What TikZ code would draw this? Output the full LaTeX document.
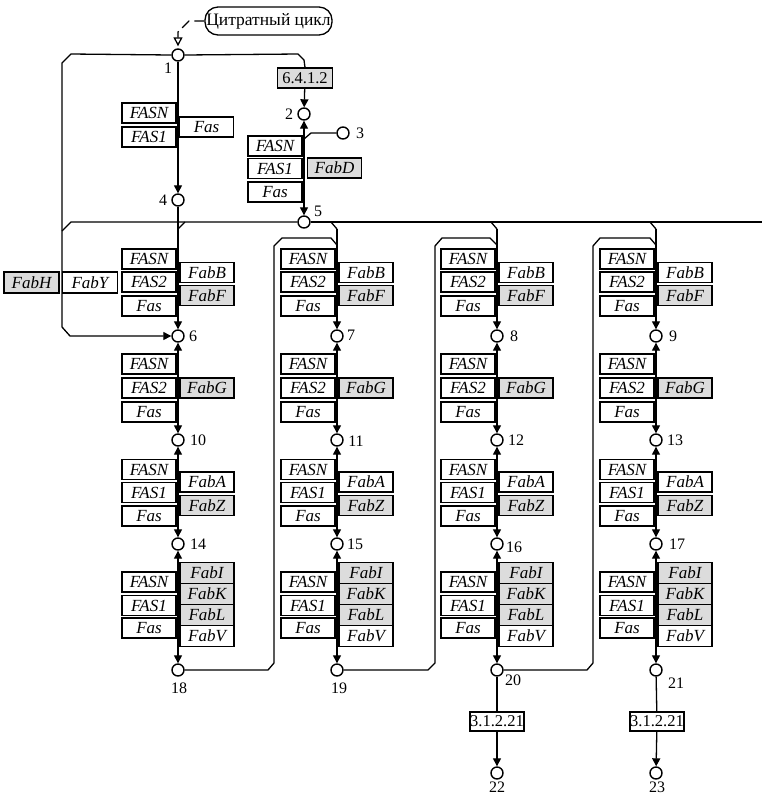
\documentclass[tikz,border=0pt]{standalone}
\usepackage{fontspec}
\setmainfont{Liberation Serif}
\usetikzlibrary{arrows.meta}
\definecolor{gfill}{RGB}{220,220,220}
\begin{document}
\begin{tikzpicture}[x=1pt,y=-1pt,
  line width=1.3pt,
  every node/.style={font=\fontsize{16}{18}\selectfont},
  met/.style={circle,draw,fill=white,minimum size=12pt,inner sep=0pt,line width=1.4pt},
  gene/.style={draw,fill=white,minimum width=54pt,minimum height=20pt,inner sep=0pt,font=\fontsize{17}{19}\selectfont\itshape,line width=1.3pt},
  ggene/.style={gene,fill=gfill},
  ec/.style={draw,fill=white,minimum width=54pt,minimum height=19pt,inner sep=0pt,line width=1.3pt,font=\fontsize{16.5}{18}\selectfont},
  lbl/.style={inner sep=0pt},
  arr/.style={-{Triangle[length=8pt,width=8pt]}},
  darr/.style={{Triangle[length=8pt,width=8pt]}-{Triangle[length=8pt,width=8pt]}},
]
\useasboundingbox (0,0) rectangle (762,807);

% top part
\node[draw,rounded corners=13pt,minimum width=127pt,minimum height=28pt,inner sep=0pt,font=\fontsize{17.5}{19}\selectfont] (cit) at (268.5,21) {Цитратный цикл};
\node[met] (n1) at (178,55) {};
\node[met] (n2) at (304,114) {};
\node[met] (n3) at (343,133) {};
\node[met] (n4) at (178,200) {};
\node[met] (n5) at (304,222) {};
\node[ec,fill=gfill,minimum height=20pt,minimum width=55pt] (e6412) at (305,78) {6.4.1.2};

\node[gene] (g1a) at (149,113) {FASN};
\node[gene] (g1b) at (149,137) {FAS1};
\node[gene] (g1c) at (206.5,127) {Fas};
\node[gene] (g2a) at (275,146) {FASN};
\node[gene] (g2b) at (275,168.5) {FAS1};
\node[gene] (g2c) at (275,192) {Fas};
\node[ggene] (g2d) at (334.5,168) {FabD};
\node[ggene,minimum width=55pt,minimum height=21pt] (fabh) at (31.5,282.5) {FabH};
\node[gene,minimum width=55pt,minimum height=21pt] (faby) at (90,282.5) {FabY};

% columns
\foreach \c/\cx/\na/\nb/\nc/\nd in {1/178/6/10/14/18, 2/337/7/11/15/19, 3/497/8/12/16/20, 4/656/9/13/17/21} {
  \node[met] (n\na) at (\cx,336) {};
  \node[met] (n\nb) at (\cx,440) {};
  \node[met] (n\nc) at (\cx,544) {};
  \node[met] (n\nd) at (\cx,670) {};
  % section A
  \node[gene] (aa\c) at (\cx-29,259) {FASN};
  \node[gene] (ab\c) at (\cx-29,282) {FAS2};
  \node[gene] (ac\c) at (\cx-29,306) {Fas};
  \node[gene] (ad\c) at (\cx+29,272.5) {FabB};
  \node[ggene] (ae\c) at (\cx+29,295.5) {FabF};
  % section B
  \node[gene] (ba\c) at (\cx-29,364) {FASN};
  \node[gene] (bb\c) at (\cx-29,388) {FAS2};
  \node[gene] (bc\c) at (\cx-29,412) {Fas};
  \node[ggene] (bd\c) at (\cx+29,388) {FabG};
  % section C
  \node[gene] (ca\c) at (\cx-29,469.5) {FASN};
  \node[gene] (cb\c) at (\cx-29,492.5) {FAS1};
  \node[gene] (cc\c) at (\cx-29,516) {Fas};
  \node[gene] (cd\c) at (\cx+29,482) {FabA};
  \node[ggene] (ce\c) at (\cx+29,505.5) {FabZ};
  % section D
  \node[gene] (da\c) at (\cx-29,582) {FASN};
  \node[gene] (db\c) at (\cx-29,605.5) {FAS1};
  \node[gene] (dc\c) at (\cx-29,628) {Fas};
  \node[ggene,minimum height=21pt] (dd\c) at (\cx+29,573) {FabI};
  \node[ggene,minimum height=21pt] (de\c) at (\cx+29,594) {FabK};
  \node[ggene,minimum height=21pt] (df\c) at (\cx+29,615) {FabL};
  \node[gene,minimum height=21pt] (dg\c) at (\cx+29,636) {FabV};
  % connectors
  \draw[darr] (n\na) -- (n\nb);
  \draw[darr] (n\nb) -- (n\nc);
  \draw[darr] (n\nc) -- (n\nd);
}

\node[met] (n22) at (497,773) {};
\node[met] (n23) at (656,773) {};
\node[ec] (ec1) at (497,721.5) {3.1.2.21};
\node[ec] (ec2) at (657,721.5) {3.1.2.21};

% coordinates
\foreach \c/\cx in {2/337,3/497,4/656} {
  \coordinate (top\c) at (\cx,229);
  \coordinate (lj\c) at (\cx,245);
}
\coordinate (b3) at (304,139);
\coordinate (lc) at (62,231);

% connectors top
\draw[dash pattern=on 10pt off 5pt,-{Triangle[open,length=9pt,width=9pt]},shorten >=2pt] (cit.west) -- (189,21) -- (178,32) -- (n1.north);
\draw[arr] (n1.west) -- (71,54) -- (62,63) -- (62,327) -- (70,336) -- (n6.west);
\draw (n1.east) -- (298,54) -- (304,60) -- (e6412.north);
\draw[arr] (e6412) -- (n2);
\draw[arr] (n1) -- (n4);
\draw[darr] (n2) -- (n5);
\draw (b3) -- (311,133) -- (n3);
\draw[arr] (n4) -- (n6);
\draw (lc) -- (71,222) -- (n5.west);
\draw (n5.east) -- (762,222);
\draw (185,222) -- (178,229);
\foreach \c/\cx/\n in {2/337/7,3/497/8,4/656/9} {
  \draw (\cx-6,222) -- (top\c);
  \draw[arr] (top\c) -- (n\n);
}
% loops
\draw (n18.east) -- (268,670) -- (274,663) -- (274,246) -- (282,238) -- (331,238) -- (lj2);
\draw (n19.east) -- (428,670) -- (435,663) -- (435,246) -- (442,238) -- (490,238) -- (lj3);
\draw (n20.east) -- (587,670) -- (593,663) -- (593,246) -- (600,238) -- (650,238) -- (lj4);
% bottom
\draw (n20) -- (ec1);
\draw[arr] (ec1) -- (n22);
\draw (n21) -- (ec2);
\draw[arr] (ec2) -- (n23);

% labels
\node[lbl] (l1) at (168,68) {1};
\node[lbl] (l2) at (289,114) {2};
\node[lbl] (l3) at (360,133) {3};
\node[lbl] (l4) at (163,200) {4};
\node[lbl] (l5) at (318,211) {5};
\node[lbl] (l6) at (193,336) {6};
\node[lbl] (l7) at (351,335) {7};
\node[lbl] (l8) at (514,336) {8};
\node[lbl] (l9) at (673,336) {9};
\node[lbl] (l10) at (198,440) {10};
\node[lbl] (l11) at (356,441) {11};
\node[lbl] (l12) at (516,440) {12};
\node[lbl] (l13) at (675,440) {13};
\node[lbl] (l14) at (198,544) {14};
\node[lbl] (l15) at (355,544) {15};
\node[lbl] (l16) at (514,547) {16};
\node[lbl] (l17) at (677,544) {17};
\node[lbl] (l18) at (179,688) {18};
\node[lbl] (l19) at (339,688) {19};
\node[lbl] (l20) at (513,680) {20};
\node[lbl] (l21) at (676,683) {21};
\node[lbl] (l22) at (497,787) {22};
\node[lbl] (l23) at (657,787) {23};
\end{tikzpicture}
\end{document}
